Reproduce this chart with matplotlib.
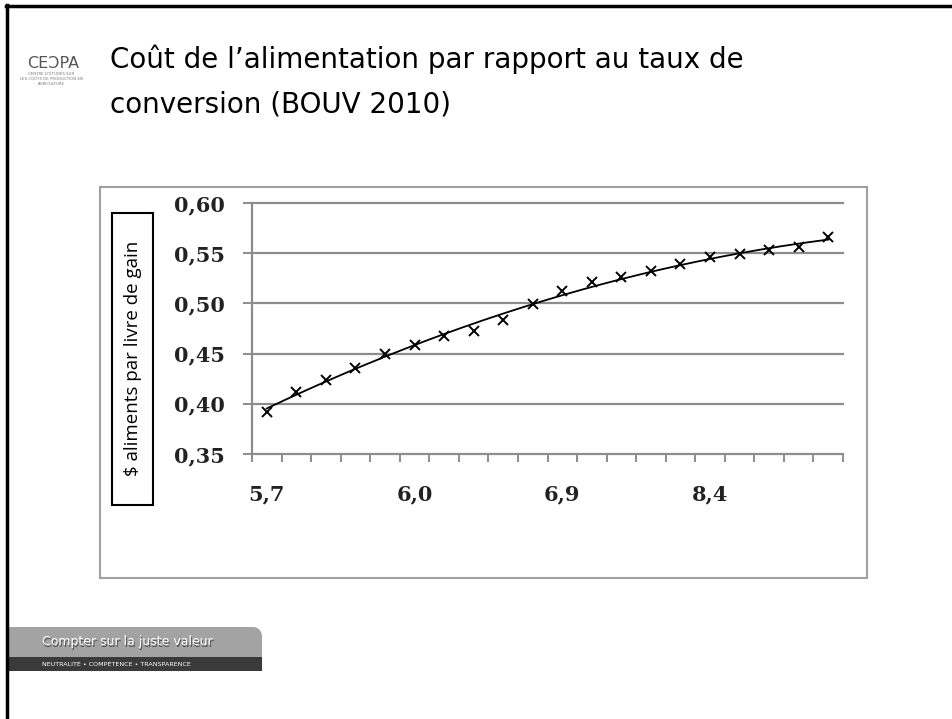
import numpy as np
import matplotlib
matplotlib.use("Agg")
import matplotlib.pyplot as plt
from matplotlib.patches import Rectangle, Polygon

# data (20 categories, label every 5th)
cost_per_lb = [0.392, 0.412, 0.424, 0.436, 0.450, 0.459, 0.468, 0.473, 0.483, 0.499,
               0.512, 0.521, 0.526, 0.532, 0.539, 0.546, 0.549, 0.553, 0.556, 0.566]
x_labels = ["5,7", "6,0", "6,9", "8,4"]
label_step = 5
y_ticks = [0.35, 0.40, 0.45, 0.50, 0.55, 0.60]

title_1 = "Coût de l\u2019alimentation par rapport au taux de"
title_2 = "conversion (BOUV 2010)"
y_title = "$ aliments par livre de gain"

W, H = 952, 719


def fx(x):
    return x / W


def fy(y):
    return 1 - y / H


fig = plt.figure(figsize=(W / 100, H / 100), dpi=100)

# slide border (top and left)
fig.add_artist(plt.Line2D([fx(6), 1], [fy(5.5), fy(5.5)], color="black", lw=2.5))
fig.add_artist(plt.Line2D([fx(7), fx(7)], [fy(5), 0], color="black", lw=2.5))

# logo
fig.text(fx(53), fy(63), "CE\u0186PA", fontsize=11.5, color="#555555",
         ha="center", va="center", family="DejaVu Sans")
for txt, yy in [("CENTRE D\u2019ÉTUDES SUR", 74), ("LES COÛTS DE PRODUCTION EN", 79),
                ("AGRICULTURE", 84)]:
    fig.text(fx(51), fy(yy), txt, fontsize=2.8, color="#777777", ha="center", va="center")

# title
fig.text(fx(110), fy(68), title_1, fontsize=20, va="baseline", family="DejaVu Sans")
fig.text(fx(110), fy(112), title_2, fontsize=20, va="baseline", family="DejaVu Sans")

# chart frame
fig.add_artist(Rectangle((fx(100), fy(578)), (867 - 100) / W, (578 - 187) / H,
                         transform=fig.transFigure, fill=False,
                         edgecolor="#a0a0a0", lw=1.5))

# y title box
fig.add_artist(Rectangle((fx(112), fy(505)), (153 - 112) / W, (505 - 213) / H,
                         transform=fig.transFigure, facecolor="white",
                         edgecolor="black", lw=1.5))
fig.text(fx(133), fy(358), y_title, rotation=90, fontsize=13.5,
         ha="center", va="center", family="Open Sans")

# plot area
ax = fig.add_axes([fx(252), fy(454), (843 - 252) / W, (454 - 203) / H])
n = len(cost_per_lb)
xs = np.arange(n) + 0.5
ax.plot(xs, cost_per_lb, linestyle="none", marker="x", color="black",
        markersize=7.5, markeredgewidth=1.4, zorder=3)

# polynomial trend line through the points
coef = np.polyfit(xs, cost_per_lb, 2)
xt = np.linspace(xs[0], xs[-1], 200)
ax.plot(xt, np.polyval(coef, xt), color="black", lw=1.3, zorder=2)

ax.set_xlim(0, n)
ax.set_ylim(0.35, 0.60)
ax.set_yticks(y_ticks)
ax.set_yticklabels([f"{v:.2f}".replace(".", ",") for v in y_ticks])
for v in y_ticks[1:]:
    ax.axhline(v, color="#8c8c8c", lw=1.6, zorder=1, clip_on=False)

ax.set_xticks(np.arange(n + 1))
ax.set_xticklabels([])
ax.set_xticks(xs[::label_step], minor=True)
ax.set_xticklabels(x_labels, minor=True)

for s in ["top", "right"]:
    ax.spines[s].set_visible(False)
for s in ["left", "bottom"]:
    ax.spines[s].set_color("#8c8c8c")
    ax.spines[s].set_linewidth(1.6)

ax.tick_params(axis="y", direction="out", length=6.5, width=1.4, color="#8c8c8c",
               pad=13, labelsize=15)
ax.tick_params(axis="x", which="major", direction="out", length=6, width=1.4,
               color="#8c8c8c")
ax.tick_params(axis="x", which="minor", length=0, pad=22, labelsize=15)
for lab in ax.get_yticklabels() + ax.get_xticklabels(minor=True):
    lab.set_family("DejaVu Serif")
    lab.set_fontweight("bold")
    lab.set_color("#222222")

# footer banner: light band with rounded top-right corner, dark strip below
r = 9
ang = np.linspace(0, np.pi / 2, 12)
band = [(fx(8), fy(657)), (fx(262), fy(657))]
band += [(fx(262 - r + r * np.cos(a)), fy(627 + r - r * np.sin(a))) for a in ang]
band += [(fx(8), fy(627))]
fig.add_artist(Polygon(band, closed=True, transform=fig.transFigure,
                       facecolor="#a3a3a3", edgecolor="none"))
fig.add_artist(Rectangle((fx(8), fy(671)), (262 - 8) / W, (671 - 657) / H,
                         transform=fig.transFigure, facecolor="#3a3a3a", edgecolor="none"))
fig.text(fx(43), fy(643), "Compter sur la juste valeur", fontsize=9, color="#555555",
         va="center")
fig.text(fx(42), fy(642), "Compter sur la juste valeur", fontsize=9, color="white",
         va="center")
fig.text(fx(42), fy(664), "NEUTRALITÉ \u2022 COMPÉTENCE \u2022 TRANSPARENCE", fontsize=4.6,
         color="white", va="center")

fig.savefig("out.png", dpi=100)
